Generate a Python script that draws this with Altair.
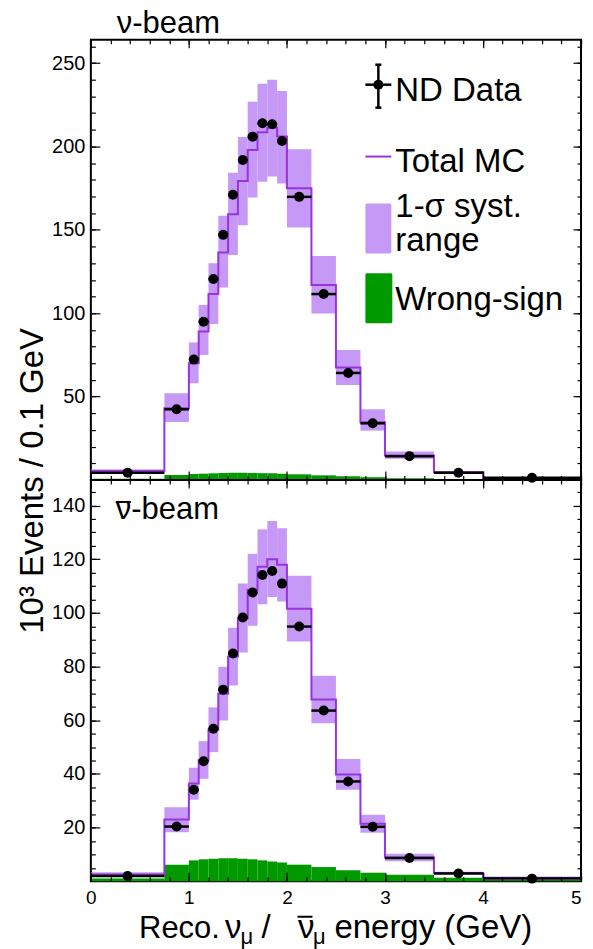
import altair as alt
import pandas as pd

FONT = "Liberation Sans"

# ---------------- data ----------------
bin_lo = [0.0, 0.75, 1.0, 1.1, 1.2, 1.3, 1.4, 1.5, 1.6, 1.7, 1.8, 1.9, 2.0, 2.25, 2.5, 2.75, 3.0, 3.5, 4.0]
bin_hi = [0.75, 1.0, 1.1, 1.2, 1.3, 1.4, 1.5, 1.6, 1.7, 1.8, 1.9, 2.0, 2.25, 2.5, 2.75, 3.0, 3.5, 4.0, 5.0]

# nu-beam
nu_data = [4.3, 42.4, 72.2, 94.9, 120.5, 147.0, 171.0, 191.9, 205.9, 213.9, 213.3, 203.3, 169.8, 111.5, 64.2, 34.0, 14.3, 4.4, 1.3]
nu_mc = [5.6, 43.0, 70.0, 89.0, 111.5, 136.4, 159.4, 179.3, 197.9, 208.6, 211.3, 206.0, 175.0, 117.0, 67.5, 34.6, 14.7, 4.6, 1.2]
nu_band_lo = [3.7, 34.8, 58.0, 75.0, 93.5, 115.5, 135.0, 152.8, 169.4, 178.9, 182.0, 177.8, 151.4, 99.9, 57.0, 29.6, 12.7, 3.8, 0.9]
nu_band_hi = [6.1, 52.0, 82.5, 105.0, 130.0, 158.4, 184.3, 205.7, 226.8, 237.6, 240.0, 233.2, 198.3, 134.4, 78.0, 42.4, 17.1, 5.4, 1.6]
nu_ws = [0.8, 3.0, 3.6, 3.8, 4.0, 4.2, 4.3, 4.3, 4.2, 4.1, 4.0, 3.8, 3.4, 2.8, 2.2, 1.7, 1.1, 0.5, 0.2]

# nubar-beam
nub_data = [2.0, 20.4, 34.1, 44.7, 56.8, 71.4, 84.9, 98.3, 107.6, 114.1, 115.6, 110.9, 94.9, 63.6, 37.2, 20.3, 8.7, 2.9, 1.0]
nub_mc = [2.5, 23.0, 36.4, 45.2, 56.5, 69.9, 83.7, 98.0, 108.6, 117.2, 120.0, 117.9, 101.5, 67.7, 39.8, 21.4, 8.9, 3.1, 1.3]
nub_band_lo = [1.6, 18.3, 30.4, 38.2, 48.1, 59.9, 72.9, 85.2, 95.2, 103.2, 105.9, 104.2, 89.3, 58.9, 34.1, 18.1, 7.5, 2.6, 0.8]
nub_band_hi = [3.4, 27.6, 42.3, 52.2, 64.8, 79.9, 94.5, 110.9, 122.0, 131.1, 134.2, 131.5, 113.8, 76.6, 45.6, 24.8, 10.3, 3.6, 1.6]
nub_ws = [1.0, 6.2, 7.8, 8.2, 8.4, 8.6, 8.6, 8.4, 8.2, 7.8, 7.4, 7.0, 6.2, 5.3, 4.1, 3.2, 2.4, 1.3, 0.3]

x_major = [0, 1, 2, 3, 4, 5]
x_minor = [round(0.2 * i, 1) for i in range(26)]
nu_y_major = [50, 100, 150, 200, 250]
nu_y_minor = list(range(10, 261, 10))
nub_y_major = [20, 40, 60, 80, 100, 120, 140]
nub_y_minor = list(range(5, 150, 5))

# ---------------- style ----------------
MC_COLOR = "#9933dd"
BAND_COLOR = "#c699f7"
WS_COLOR = "#009900"
W = 491
H_TOP = 441
H_BOT = 402
MAJ = 9
MIN = 4.5


def tick_axis(orient, values, size, labels=False, label_size=20, label_padding=6,
              label_align=None):
    kw = dict(orient=orient, values=values, offset=-size, tickSize=size,
              tickColor="black", tickWidth=1.2, domain=False, grid=False,
              title=None, labels=labels, zindex=1, minExtent=0, maxExtent=200)
    if labels:
        kw.update(labelFont=FONT, labelFontSize=label_size, labelColor="black",
                  labelPadding=label_padding, labelFlush=False, labelOverlap=False)
        if label_align is not None:
            kw["labelAlign"] = label_align
    return alt.Axis(**kw)


one = pd.DataFrame({"k": [0]})


def txt(s, x, y, size=33, **kw):
    return alt.Chart(one).mark_text(text=s, font=FONT, fontSize=size, align="left",
                                    baseline="alphabetic", color="black", **kw).encode(
        x=alt.value(x), y=alt.value(y))


def vrule(x1, x2, y1, y2, color, w):
    return alt.Chart(one).mark_rule(color=color, strokeWidth=w).encode(
        x=alt.value(x1), x2=alt.value(x2), y=alt.value(y1), y2=alt.value(y2))


def box(x1, x2, y1, y2, color):
    return alt.Chart(one).mark_rect(color=color, cornerRadius=1.5).encode(
        x=alt.value(x1), x2=alt.value(x2), y=alt.value(y1), y2=alt.value(y2))


def panel(data, mc, blo, bhi, ws, ymax, ymaj, ymin, height, xlabels, extras):
    df = pd.DataFrame({"lo": bin_lo, "hi": bin_hi, "data": data, "mc": mc,
                       "blo": blo, "bhi": bhi, "ws": ws})
    step = pd.DataFrame({"x": bin_lo + [bin_hi[-1]], "mc": mc + [mc[-1]]})
    xs = alt.Scale(domain=[0, 5], nice=False, zero=False)
    ys = alt.Scale(domain=[0, ymax], nice=False, zero=False)
    base = alt.Chart(df)
    band = base.mark_rect(color=BAND_COLOR).encode(
        x=alt.X("lo:Q", scale=xs, axis=tick_axis(
            "bottom", x_major, MAJ, labels=xlabels, label_size=19, label_padding=7,
            label_align={"expr": "datum.value == 5 ? 'right' : 'center'"})),
        x2="hi",
        y=alt.Y("blo:Q", scale=ys, axis=tick_axis("left", ymaj, MAJ, labels=True)),
        y2="bhi")
    wsl = base.mark_rect(color=WS_COLOR).encode(
        x=alt.X("lo:Q", scale=xs, axis=tick_axis("bottom", x_minor, MIN)),
        x2="hi",
        y=alt.Y("ws:Q", scale=ys, axis=tick_axis("left", ymin, MIN)),
        y2=alt.datum(0))
    mcl = alt.Chart(step).mark_line(color=MC_COLOR, strokeWidth=2, interpolate="step-after").encode(
        x=alt.X("x:Q", scale=xs, axis=tick_axis("top", x_major, 8)),
        y=alt.Y("mc:Q", scale=ys, axis=tick_axis("right", ymaj, 8)))
    bars = base.mark_rule(color="black", strokeWidth=2.5).encode(
        x=alt.X("lo:Q", scale=xs, axis=tick_axis("top", x_minor, 4)),
        x2="hi",
        y=alt.Y("data:Q", scale=ys, axis=tick_axis("right", ymin, 4)))
    dots = base.transform_calculate(c="(datum.lo + datum.hi) / 2").mark_circle(
        color="black", size=100, opacity=1).encode(
        x=alt.X("c:Q", scale=xs, axis=None),
        y=alt.Y("data:Q", scale=ys, axis=None))
    return alt.layer(band, wsl, mcl, bars, dots, *extras).resolve_axis(
        x="independent", y="independent").properties(width=W, height=height)


top_extras = [
    txt("\u03bd-beam", 26, -7, size=31),
    # legend
    vrule(288, 288, 25, 68, "black", 2.5),
    vrule(285, 291, 25, 25, "black", 2.5),
    vrule(285, 291, 68, 68, "black", 2.5),
    vrule(275, 301, 45, 45, "black", 2.5),
    alt.Chart(one).mark_circle(color="black", size=100, opacity=1).encode(
        x=alt.value(288), y=alt.value(45)),
    txt("ND Data", 305, 61),
    vrule(275, 301, 117, 117, MC_COLOR, 2),
    txt("Total MC", 305, 132),
    box(275, 301, 164, 214, BAND_COLOR),
    txt("1-\u03c3 syst.", 305, 178),
    txt("range", 305, 212),
    box(275, 302, 234, 284, WS_COLOR),
    txt("Wrong-sign", 305, 271),
]

XT_BASE = 459
bot_extras = [
    txt("\u03bd-beam", 25, 39, size=31),
    vrule(25, 40, 22, 22, "black", 2),
    txt("10\u00b3 Events / 0.1 GeV", -48, 154, size=33, angle=270),
    txt("Reco.", 48.3, XT_BASE, size=31),
    txt("\u03bd", 134.5, XT_BASE),
    txt("\u03bc", 150, XT_BASE + 6, size=22),
    txt("/", 171, XT_BASE),
    txt("\u03bd", 207.5, XT_BASE),
    vrule(207, 222, 437.5, 437.5, "black", 2),
    txt("\u03bc", 222.5, XT_BASE + 6, size=22),
    txt("energy (GeV)", 244, XT_BASE),
]

top = panel(nu_data, nu_mc, nu_band_lo, nu_band_hi, nu_ws, 264, nu_y_major, nu_y_minor,
            H_TOP, False, top_extras)
bottom = panel(nub_data, nub_mc, nub_band_lo, nub_band_hi, nub_ws, 149.5, nub_y_major,
               nub_y_minor, H_BOT, True, bot_extras)

chart = alt.vconcat(top, bottom, spacing=0, bounds="flush").configure_view(
    stroke="black", strokeWidth=2).properties(
    padding={"left": 7, "top": -2, "right": -1, "bottom": 0})

chart.save("out.html", embed_options={"renderer": "svg", "actions": False})
